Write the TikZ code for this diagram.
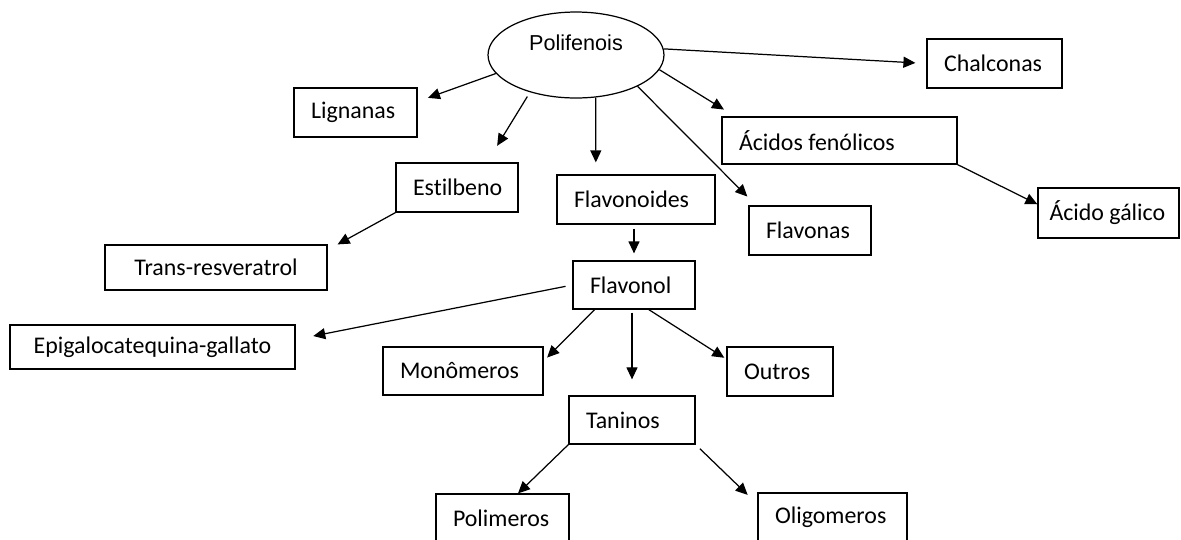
\documentclass[tikz,border=0pt]{standalone}
\usepackage{fontspec}
\setmainfont{Carlito}[Ligatures=NoCommon]
\newfontfamily\arialfont{Liberation Sans}
\usetikzlibrary{arrows.meta,positioning,shapes.geometric}
\tikzstyle{root}=[draw, ellipse, inner sep=0pt, minimum width=3.52cm, minimum height=1.72cm, text height=0.3cm, text depth=0.48cm, font=\arialfont\fontsize{12.3}{14}\selectfont]
\tikzstyle{grp}=[draw, inner xsep=0.34cm, inner ysep=0pt, minimum height=0.98cm, align=flush left]

\begin{document}
\begin{tikzpicture}[x=0.02cm,y=-0.02cm,>={Triangle[length=0.24cm,width=0.22cm]},line width=0.7pt,font=\fontsize{13.6}{16}\selectfont]
    \useasboundingbox (0,0) rectangle (1181,539);
    \node [root] (poli) at (576,55) {Polifenois};
    \node [grp, text width=1.78cm] (lig) at (355.5,112.5) {Lignanas};
    \node [grp, text width=1.76cm] (est) at (457,187.5) {Estilbeno};
    \node [grp, text width=2.48cm] (flavd) at (636,199.5) {Flavonoides};
    \node [grp, text width=1.76cm] (flavs) at (810,230.5) {Flavonas};
    \node [grp, text width=4.02cm, minimum height=0.94cm] (acid) at (839.5,140.5) {Ácidos fenólicos};
    \node [grp, text width=2.36cm, inner xsep=0.23cm, minimum height=1cm] (gal) at (1108.5,213) {Ácido gálico};
    \node [grp, text width=2.02cm] (chal) at (994.5,63.5) {Chalconas};
    \node [grp, text width=3.76cm, align=center, minimum height=0.9cm] (trans) at (216,267.5) {Trans-resveratrol};
    \node [grp, text width=5.02cm, align=center, minimum height=0.88cm] (epi) at (152.5,347) {Epigalocatequina-gallato};
    \node [grp, text width=1.76cm, minimum height=0.96cm] (flvl) [below of=flavd, node distance=1.71cm, xshift=-0.04cm] {Flavonol};
    \node [grp, text width=2.52cm, minimum height=0.96cm] (mono) at (463,371) {Monômeros};
    \node [grp, text width=1.44cm] (outr) at (780,371.5) {Outros};
    \node [grp, text width=1.84cm, minimum height=0.96cm] (tan) [below of=flvl, node distance=2.7cm, xshift=-0.04cm] {Taninos};
    \node [grp, text width=1.98cm] (poly) at (502.5,518.5) {Polimeros};
    \node [grp, text width=2.30cm] (olig) at (832.5,517.5) {Oligomeros};
    \path[->]
    (poli.193) edge[shorten >=0.22cm] (lig.10)
    (poli.219) edge[shorten <=0.1cm, shorten >=0.39cm] (est.40)
    (poli.295) edge[shorten >=0.24cm] (flavd.148.5)
    (poli.333) edge[shorten >=0.25cm] (flavs.155)
    (poli.350) edge[shorten >=0.26cm] (acid.167)
    (poli.4) edge[shorten >=0.22cm] (chal.west)
    (acid.south east) edge (gal.173.5)
    (est.south west) edge ([xshift=0.2cm]trans.north east)
    (flvl.north |- flavd.south) edge[shorten <=0.08cm, shorten >=0.14cm] (flvl.north)
    (flvl.west) edge[shorten <=0.14cm, shorten >=0.36cm] (epi.3)
    (flvl.212) edge[shorten >=0.1cm] (mono.7)
    (flvl.south -| tan.north) edge[shorten <=0.06cm, shorten >=0.32cm] (tan.north)
    (flvl.301) edge[shorten >=0.05cm] (outr.167)
    (tan.south west) edge ([xshift=0.31cm]poly.north)
    (tan.south east) edge[shorten <=0.12cm, shorten >=0.27cm] (olig.170.5);
\end{tikzpicture}
\end{document}
